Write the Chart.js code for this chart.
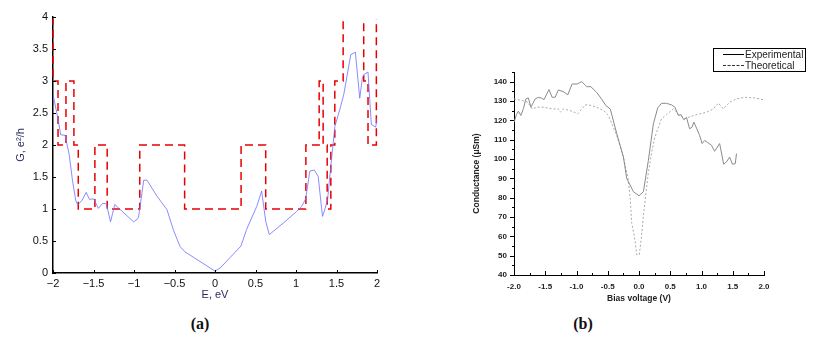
<!DOCTYPE html>
<html>
<head>
<meta charset="utf-8">
<script src="https://cdn.jsdelivr.net/npm/chart.js@4.4.1/dist/chart.umd.min.js"></script>
<style>
  body { margin: 0; background: #fff; width: 839px; height: 354px; position: relative; overflow: hidden; font-family: "Liberation Sans", Arial, sans-serif; }
  #boxA { position: absolute; left: 0; top: 0; }
  #boxB { position: absolute; left: 420px; top: 0; }
  .cap { position: absolute; top: 315px; width: 40px; text-align: center; font: bold 16px "Liberation Serif", serif; color: #111; }
  #legend { position: absolute; left: 713px; top: 48px; width: 91px; height: 22px; border: 1px solid #000; font: 10px "Liberation Sans", Arial, sans-serif; color: #222; }
  #legend .row { height: 11px; line-height: 11px; display: flex; align-items: center; padding-left: 9px; }
  #legend .ln { width: 21px; height: 0; margin-right: 1px; border-top: 1px solid #000; }
  #legend .ln.dot { border-top: 1px dashed #333; }
</style>
</head>
<body>
<div id="boxA"><canvas id="chartA" width="400" height="310"></canvas></div>
<div id="boxB"><canvas id="chartB" width="419" height="310"></canvas></div>
<div class="cap" style="left:180px">(a)</div>
<div class="cap" style="left:563px">(b)</div>
<div id="legend">
  <div class="row"><span class="ln"></span>Experimental</div>
  <div class="row"><span class="ln dot"></span>Theoretical</div>
</div>
<script>
// (a) conductance vs energy
const aE = [-2, -1.94, -1.905, -1.85, -1.80, -1.76, -1.72, -1.695, -1.64, -1.59, -1.55, -1.5, -1.44, -1.385, -1.34, -1.29, -1.237, -1.16, -1.005, -0.96, -0.944, -0.88, -0.84, -0.716, -0.593, -0.513, -0.43, -0.37, -0.185, 0, 0.065, 0.32, 0.39, 0.515, 0.576, 0.626, 0.67, 0.843, 1.007, 1.07, 1.12, 1.17, 1.225, 1.274, 1.30, 1.327, 1.355, 1.39, 1.43, 1.48, 1.54, 1.59, 1.676, 1.733, 1.787, 1.82, 1.836, 1.889, 1.93, 1.984, 2];
const aG = [2.79, 2.42, 2.16, 2.15, 1.85, 1.45, 1.14, 1.06, 1.14, 1.26, 1.15, 1.16, 1.01, 1.09, 1.08, 0.80, 1.07, 0.98, 0.80, 0.84, 0.87, 1.45, 1.45, 1.2, 0.99, 0.67, 0.41, 0.33, 0.18, 0.03, 0.08, 0.42, 0.68, 1.04, 1.28, 0.81, 0.60, 0.78, 0.96, 1.04, 1.16, 1.59, 1.61, 1.51, 1.2, 0.885, 0.99, 1.15, 1.67, 2.29, 2.55, 2.79, 3.41, 3.45, 2.73, 3.05, 3.10, 3.14, 2.32, 2.28, 2.42];
// quantised steps: level changes to stepG at stepE
const stepE = [-2, -2, -1.938, -1.84, -1.742, -1.688, -1.483, -1.331, -0.929, -0.375, 0.322, 0.626, 1.122, 1.286, 1.335, 1.385, 1.43, 1.479, 1.582, 1.836, 1.889, 1.992];
const stepG = [4, 3, 2, 3, 2, 1, 2, 1, 2, 1, 2, 1, 2, 3, 2, 1, 2, 3, 4, 3, 2, 4];
const aTicksE = [-2, -1.5, -1, -0.5, 0, 0.5, 1, 1.5, 2];

// (b) conductance vs bias voltage
const expV = [-2.0, -1.96, -1.93, -1.89, -1.85, -1.81, -1.77, -1.73, -1.66, -1.61, -1.56, -1.52, -1.44, -1.39, -1.34, -1.29, -1.21, -1.14, -1.07, -0.99, -0.915, -0.835, -0.77, -0.68, -0.60, -0.53, -0.46, -0.356, -0.25, -0.197, -0.09, 0.0, 0.07, 0.15, 0.23, 0.30, 0.36, 0.44, 0.52, 0.574, 0.63, 0.67, 0.717, 0.76, 0.81, 0.85, 0.877, 0.92, 0.97, 1.01, 1.05, 1.10, 1.16, 1.21, 1.29, 1.355, 1.40, 1.45, 1.495, 1.54, 1.56];
const expG = [119.0, 123.0, 124.7, 122.5, 126, 131.1, 131.6, 126.8, 131.1, 131.9, 131.5, 130.7, 135.9, 131.9, 132, 135.7, 134.8, 133.2, 138.8, 138.8, 140.0, 137.4, 137.4, 134.5, 131.1, 127.6, 125.9, 113.1, 101.1, 90, 83.1, 81.0, 83.1, 99.3, 118.2, 126.5, 128.8, 128.8, 128.0, 126.8, 122.5, 123, 120.3, 121.5, 115.6, 116.5, 119.1, 116, 112.2, 108.0, 109.6, 108.5, 107.1, 104.0, 108.0, 97.3, 98.5, 101.0, 97.3, 97.6, 102.8];
const theoV = [-2.0, -1.87, -1.78, -1.71, -1.63, -1.53, -1.39, -1.29, -1.26, -1.21, -1.07, -0.98, -0.86, -0.81, -0.70, -0.57, -0.49, -0.356, -0.25, -0.17, -0.14, -0.117, -0.064, -0.037, 0.005, 0.04, 0.068, 0.11, 0.148, 0.2, 0.255, 0.36, 0.44, 0.55, 0.64, 0.73, 0.87, 1.08, 1.19, 1.27, 1.35, 1.45, 1.56, 1.69, 1.85, 2.0];
const theoG = [131.1, 130.2, 129.4, 125.9, 126.8, 126.8, 125.9, 125.9, 124.2, 125.9, 124.7, 123.4, 128.0, 128.0, 127.1, 125.1, 122.5, 112.2, 101.1, 89.1, 79, 67, 58, 50.5, 50.5, 60, 70, 82, 92.5, 103, 111.4, 120.8, 123.0, 125.9, 123, 120.8, 122.5, 124.2, 125.9, 128.9, 125.9, 129.4, 131.1, 131.9, 131.6, 130.6];

const pts = (xs, ys) => xs.map((x, i) => ({ x: x, y: ys[i] }));

// draws short tick marks (in or out) on the axis lines
const tickMarks = {
  id: 'tickMarks',
  afterDatasetsDraw(chart, args, opts) {
    const ctx = chart.ctx;
    ctx.save();
    ctx.strokeStyle = '#000';
    ctx.lineWidth = opts.width || 1;
    ctx.beginPath();
    for (const a of opts.axes || []) {
      const s = chart.scales[a.id];
      const marks = s.ticks.map(t => [t.value, a.len]);
      if (a.minor) {
        for (let v = s.min; v <= s.max + 1e-9; v += a.minor) marks.push([v, a.minorLen]);
      }
      for (const [v, len] of marks) {
        const p = Math.round(s.getPixelForValue(v)) + 0.5;
        if (s.isHorizontal()) {
          ctx.moveTo(p, s.top);
          ctx.lineTo(p, s.top + a.dir * len);
        } else {
          ctx.moveTo(s.right, p);
          ctx.lineTo(s.right + a.dir * len, p);
        }
      }
    }
    ctx.stroke();
    ctx.restore();
  }
};

const minus = v => (v < 0 ? '\u2212' : '') + Math.abs(v);

new Chart(document.getElementById('chartA'), {
  type: 'line',
  data: {
    datasets: [{
      data: pts(aE, aG),
      borderColor: 'rgba(110,110,255,0.8)',
      borderWidth: 1,
      pointRadius: 0,
      tension: 0,
      order: 1
    }, {
      data: pts(stepE, stepG),
      borderColor: '#e80000',
      borderWidth: 1.5,
      borderDash: [8, 5],
      pointRadius: 0,
      stepped: true,
      clip: { left: 2, right: 2, top: -2, bottom: 2 },
      order: 2
    }]
  },
  plugins: [tickMarks],
  options: {
    responsive: false,
    animation: false,
    layout: { padding: { top: 17, right: 23, left: 0, bottom: 0 } },
    scales: {
      x: {
        type: 'linear',
        min: -2, max: 2,
        afterBuildTicks: s => { s.ticks = aTicksE.map(v => ({ value: v })); },
        afterFit: s => { s.height = 37; },
        grid: { display: false, drawTicks: false },
        border: { display: true, color: '#000', width: 1.5 },
        ticks: { padding: 4, color: '#111', font: { family: 'Liberation Sans', size: 11 }, callback: minus, maxRotation: 0 },
        title: { display: true, text: 'E, eV', color: '#2a2a60', font: { family: 'Liberation Sans', size: 11 }, padding: { top: 0, bottom: 8 } }
      },
      y: {
        min: 0, max: 4,
        afterFit: s => { s.width = 53; },
        grid: { display: false, drawTicks: false },
        border: { display: true, color: '#000', width: 1.5 },
        ticks: { stepSize: 0.5, padding: 5, color: '#111', font: { family: 'Liberation Sans', size: 11 }, callback: minus },
        title: { display: true, text: 'G, e\u00B2/h', color: '#2a2a60', font: { family: 'Liberation Sans', size: 11 }, padding: { top: 14, bottom: 0 } }
      }
    },
    plugins: {
      legend: { display: false },
      tooltip: { enabled: false },
      tickMarks: { width: 1, axes: [{ id: 'x', len: 3, dir: -1 }, { id: 'y', len: 3, dir: 1 }] }
    }
  }
});

new Chart(document.getElementById('chartB'), {
  type: 'line',
  data: {
    datasets: [{
      label: 'Experimental',
      data: pts(expV, expG),
      borderColor: '#8a8a8a',
      borderWidth: 1,
      pointRadius: 0,
      tension: 0
    }, {
      label: 'Theoretical',
      data: pts(theoV, theoG),
      borderColor: '#a8a8a8',
      borderWidth: 1,
      borderDash: [2, 2],
      pointRadius: 0,
      tension: 0
    }]
  },
  plugins: [tickMarks],
  options: {
    responsive: false,
    animation: false,
    layout: { padding: { top: 72, right: 75, left: 0, bottom: 0 } },
    scales: {
      x: {
        type: 'linear',
        min: -2, max: 2,
        afterFit: s => { s.height = 35; },
        grid: { display: false, drawTicks: false },
        border: { display: true, color: '#000', width: 1 },
        ticks: { stepSize: 0.5, padding: 7, color: '#222', font: { family: 'Liberation Sans', size: 8, weight: 'bold' }, callback: v => v.toFixed(1), maxRotation: 0 },
        title: { display: true, text: 'Bias voltage (V)', color: '#222', font: { family: 'Liberation Sans', size: 8.5, weight: 'bold' }, padding: { top: 0, bottom: 6 } }
      },
      y: {
        min: 40, max: 145,
        afterFit: s => { s.width = 94; },
        grid: { display: false, drawTicks: false },
        border: { display: true, color: '#000', width: 1 },
        ticks: { stepSize: 10, includeBounds: false, padding: 7, color: '#222', font: { family: 'Liberation Sans', size: 8, weight: 'bold' } },
        title: { display: true, text: 'Conductance (\u03BCSm)', color: '#222', font: { family: 'Liberation Sans', size: 8.5, weight: 'bold' }, padding: { top: 52, bottom: 0 } }
      }
    },
    plugins: {
      legend: { display: false },
      tooltip: { enabled: false },
      tickMarks: { width: 1, axes: [
        { id: 'x', len: 4, dir: -1, minor: 0.25, minorLen: 2 },
        { id: 'y', len: 4, dir: -1, minor: 5, minorLen: 2 }
      ] }
    }
  }
});
</script>
</body>
</html>
